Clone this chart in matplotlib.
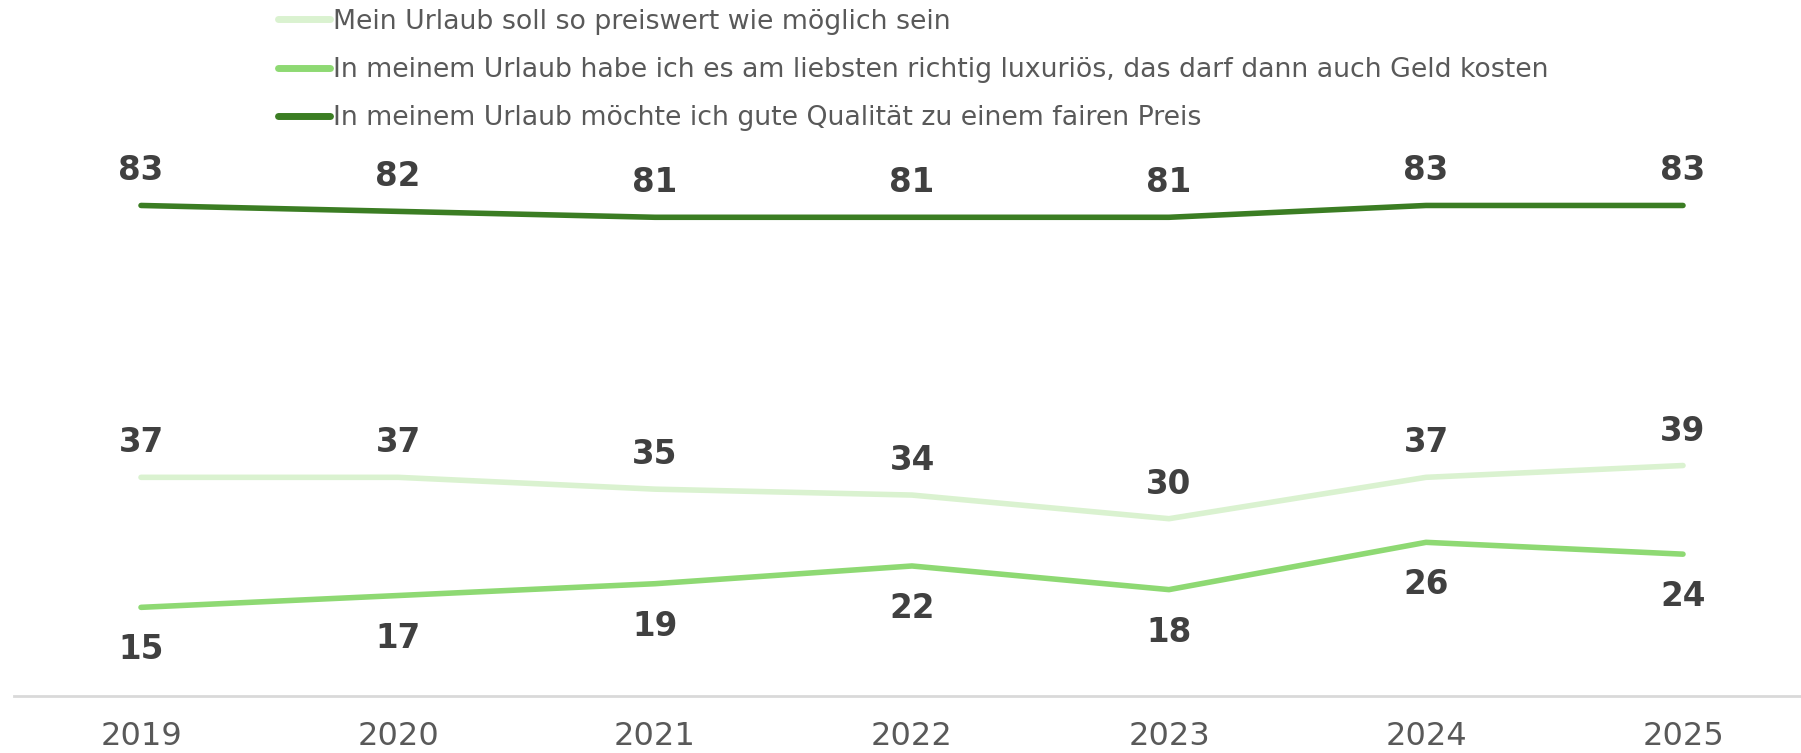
import matplotlib.pyplot as plt
import matplotlib
matplotlib.rcParams['font.family'] = ['DejaVu Sans']

years = ['2019', '2020', '2021', '2022', '2023', '2024', '2025']
preiswert = [37, 37, 35, 34, 30, 37, 39]
luxus = [15, 17, 19, 22, 18, 26, 24]
qualitaet = [83, 82, 81, 81, 81, 83, 83]

labels = ['Mein Urlaub soll so preiswert wie möglich sein',
          'In meinem Urlaub habe ich es am liebsten richtig luxuriös, das darf dann auch Geld kosten',
          'In meinem Urlaub möchte ich gute Qualität zu einem fairen Preis']
colors = ['#daf2d0', '#8ed973', '#3b7d23']

W, H = 1801, 753
fig = plt.figure(figsize=(W/100, H/100), dpi=100)
# axes: x from 14px to right edge, y=0 at 696px, y=100 at 105px
ax = fig.add_axes([14/W, (H-696)/H, (W-14)/W, (696-105)/H])

x = list(range(len(years)))
series = [preiswert, luxus, qualitaet]
for vals, lab, col in zip(series, labels, colors):
    ax.plot(x, vals, color=col, lw=4, solid_capstyle='round', solid_joinstyle='round', label=lab)

# labels: light and dark above, mid below
for vals, above in [(preiswert, True), (luxus, False), (qualitaet, True)]:
    for xi, v in zip(x, vals):
        off = 25 if above else -52
        ax.annotate(str(v), (xi, v), xytext=(0, off), textcoords='offset pixels',
                    ha='center', va='baseline', fontsize=23.5, fontweight='bold', color='#404040')

ax.set_xlim((14-141)/257, (W-141)/257)
ax.set_ylim(0, 100)
ax.set_xticks(x)
ax.set_xticklabels(years)
ax.set_yticks([])
ax.tick_params(axis='x', length=0, pad=18, labelsize=23, labelcolor='#595959')
for s in ['top', 'left', 'right']:
    ax.spines[s].set_visible(False)
ax.spines['bottom'].set_color('#d9d9d9')
ax.spines['bottom'].set_linewidth(2)

leg = fig.legend(loc='upper left', bbox_to_anchor=(259/W, 1 + 10/H), frameon=False,
                 fontsize=19.25, handlelength=1.95, handletextpad=0.13, labelspacing=0.83,
                 borderpad=0.2)
for t in leg.get_texts():
    t.set_color('#595959')
for l in leg.get_lines():
    l.set_linewidth(5)

fig.savefig('out.png', dpi=100)
